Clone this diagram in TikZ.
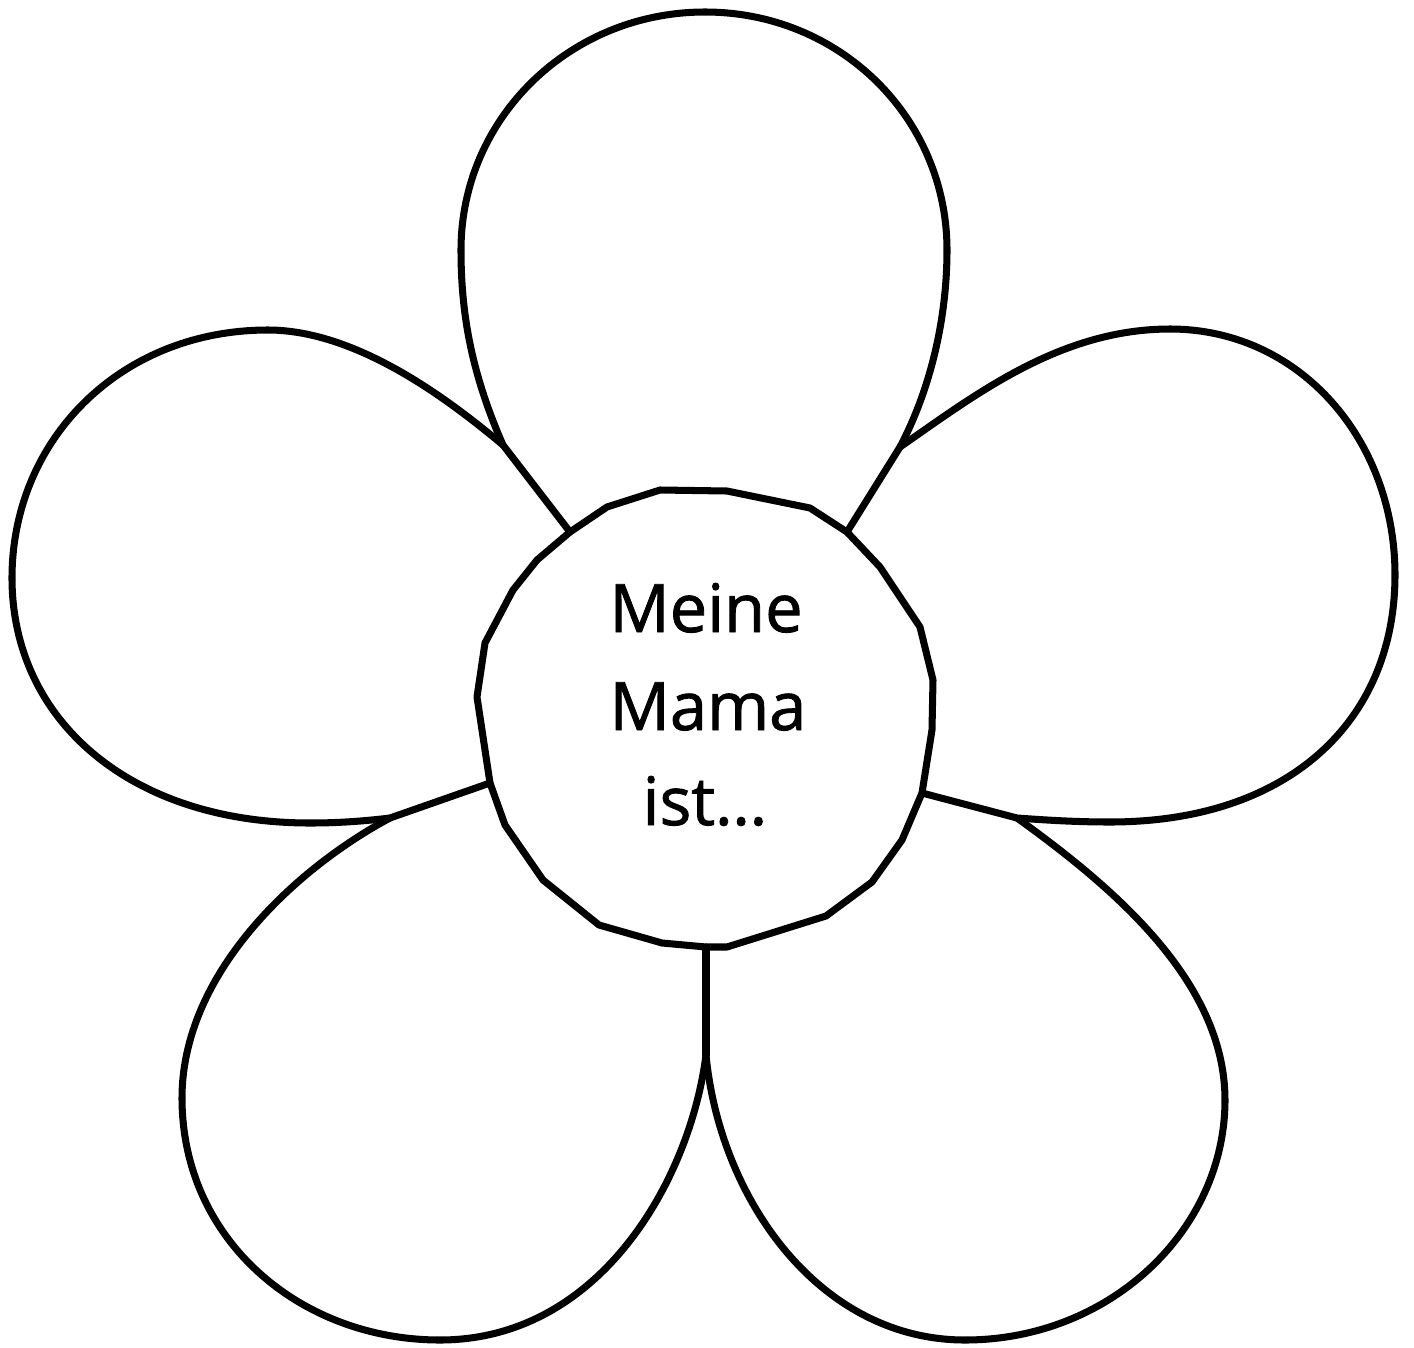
\documentclass[tikz,border=0pt]{standalone}
\usepackage{fontspec}
\setmainfont{Open Sans}
\newfontfamily\petalfont[FakeBold=1.3]{Open Sans}
\begin{document}
\begin{tikzpicture}[x=0.01cm,y=-0.01cm,
  outline/.style={draw=black,line width=2pt,line join=round,line cap=round},
  label/.style={font=\petalfont\fontsize{19}{27}\selectfont,inner sep=0pt,anchor=base}]
\useasboundingbox[fill=white] (0,0) rectangle (1414,1348);
% junctions on the centre
\coordinate (cTL) at (570,532);
\coordinate (cTR) at (847,532);
\coordinate (cR) at (922,793);
\coordinate (cB) at (706,947);
\coordinate (cL) at (490,783);
% petal junctions
\coordinate (j1) at (503,445);
\coordinate (j2) at (900,447);
\coordinate (j3) at (1017,818);
\coordinate (j4) at (706,1055);
\coordinate (j5) at (390,818);
% centre
\draw[outline] (cTL) -- (607,507) -- (660,490) -- (727,491) -- (810,508) -- (cTR)
  -- (880,567) -- (920,627) -- (933,680) -- (932,730) -- (cR)
  -- (902,840) -- (872,882) -- (826,916) -- (727,947) -- (cB) -- (662,943)
  -- (599,925) -- (543,880) -- (505,825) -- (cL)
  -- (477,697) -- (485,643) -- (513,590) -- (537,560) -- cycle;
% top petal
\draw[outline] (cTL) -- (j1) .. controls (470,370) and (461,310) .. (461,250)
  .. controls (461,118) and (570,12) .. (705,12)
  .. controls (840,12) and (947,118) .. (947,250)
  .. controls (947,320) and (930,390) .. (j2) -- (cTR);
% left petal
\draw[outline] (j1) .. controls (455,405) and (360,330) .. (268,330)
  .. controls (120,330) and (12,440) .. (12,578)
  .. controls (12,720) and (130,823) .. (310,823)
  .. controls (340,823) and (365,821) .. (j5) -- (cL);
% right petal
\draw[outline] (j2) .. controls (975,395) and (1060,329) .. (1170,329)
  .. controls (1300,329) and (1395,440) .. (1395,575)
  .. controls (1395,720) and (1290,822) .. (1110,822)
  .. controls (1075,822) and (1045,820) .. (j3) -- (cR);
% lower left petal
\draw[outline] (j5) .. controls (293,870) and (182,975) .. (182,1098)
  .. controls (182,1240) and (300,1340) .. (440,1340)
  .. controls (600,1340) and (690,1180) .. (j4);
% lower right petal
\draw[outline] (j4) .. controls (720,1200) and (820,1340) .. (965,1340)
  .. controls (1110,1340) and (1225,1230) .. (1225,1100)
  .. controls (1225,980) and (1110,885) .. (j3);
% stem between centre and lower petals
\draw[outline] (cB) -- (j4);
% text
\node[label] (t1) at (706,632) {Meine};
\node[label] (t2) at (708,730) {Mama};
\node[label] (t3) at (705,825) {ist…};
\end{tikzpicture}
\end{document}
